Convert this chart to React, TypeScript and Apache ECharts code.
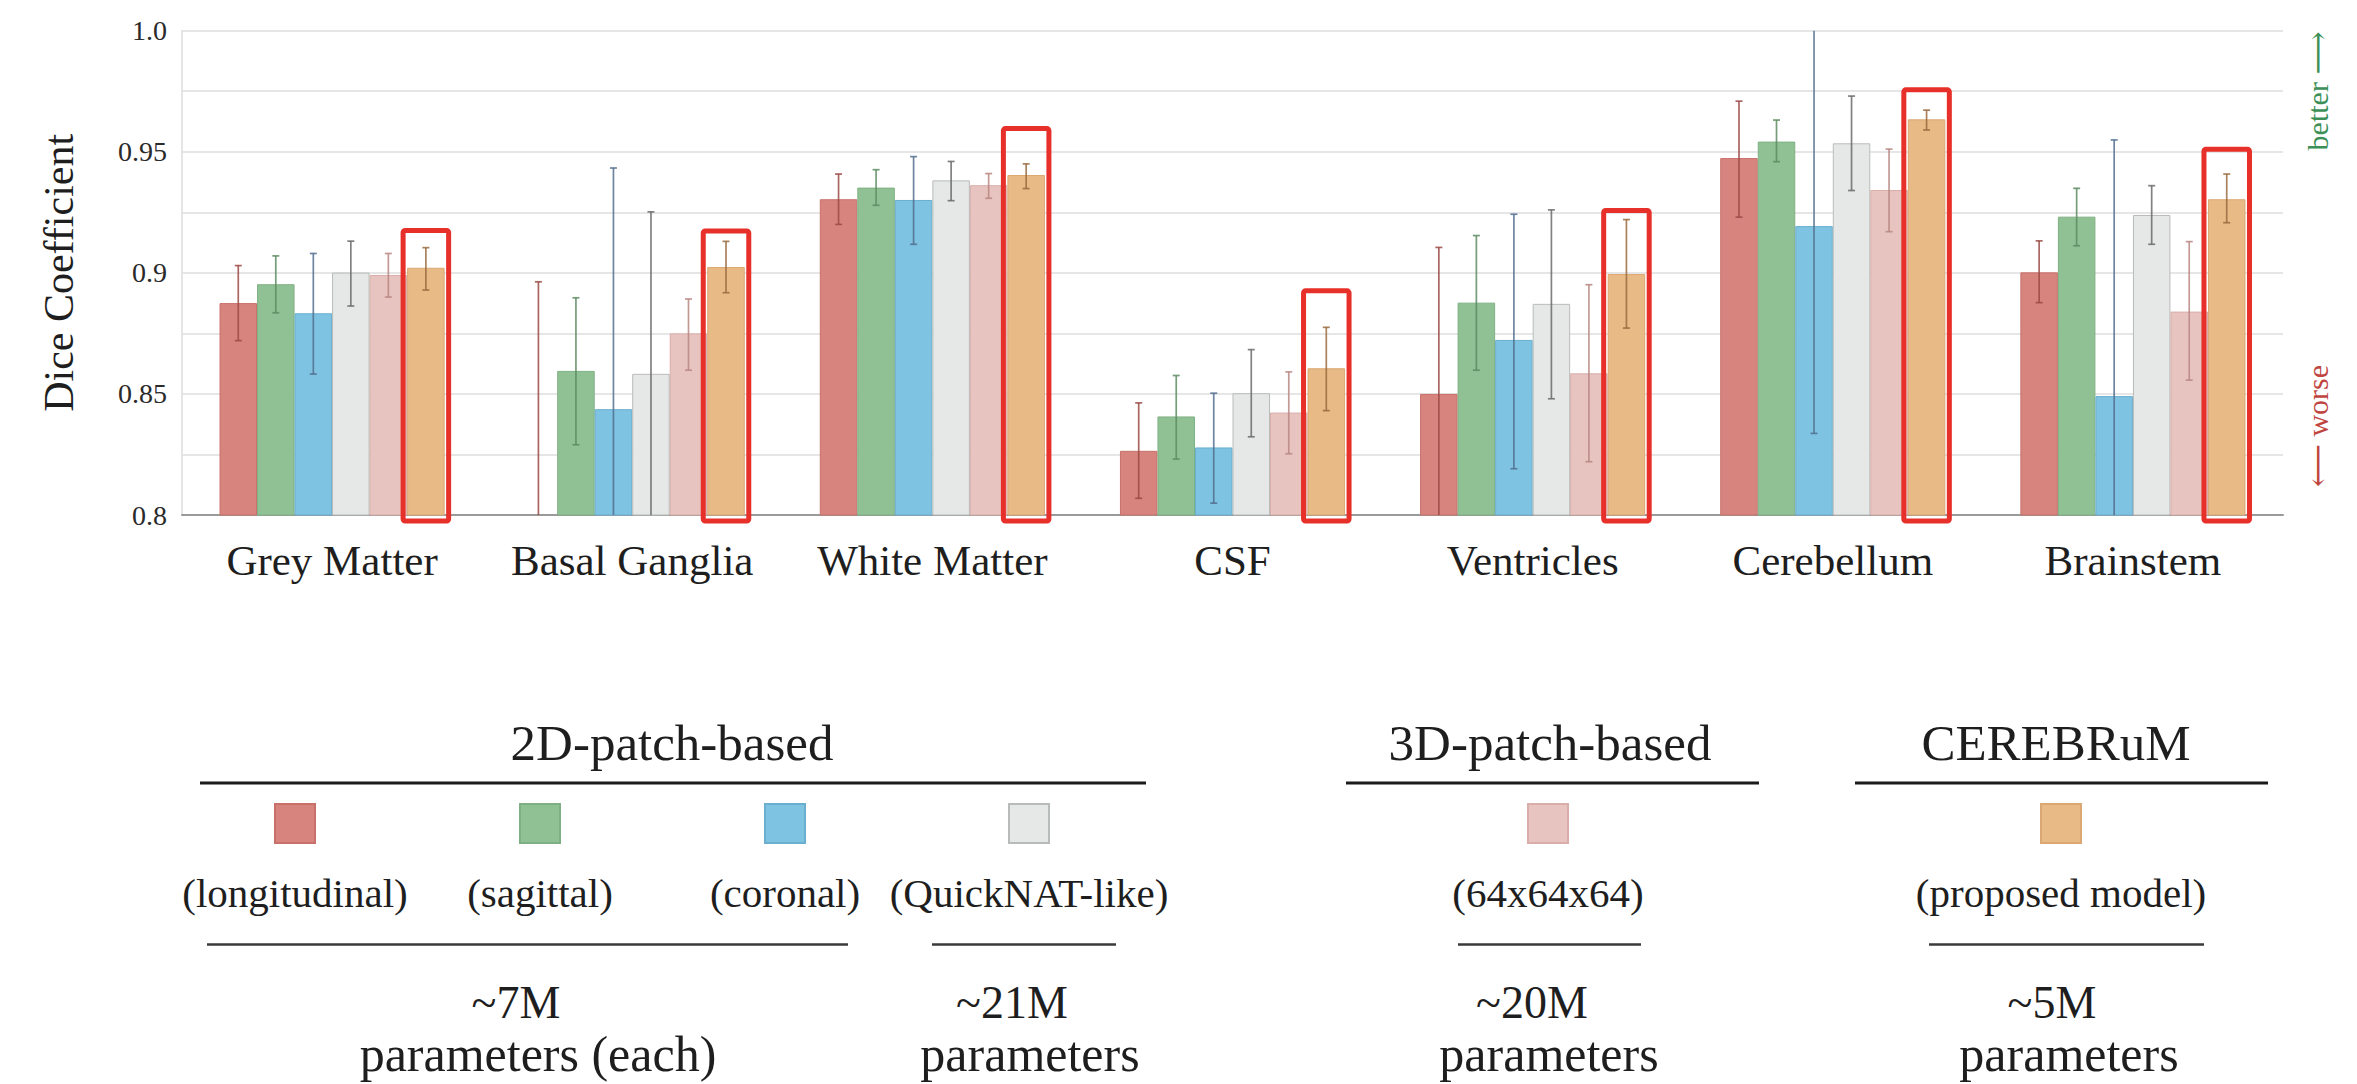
import React, { useEffect, useRef } from "react";
import * as echarts from "echarts";

// ---------- DATA ----------
const categories = ["Grey Matter", "Basal Ganglia", "White Matter", "CSF", "Ventricles", "Cerebellum", "Brainstem"];

const seriesNames = [
  "2D-patch-based (longitudinal)",
  "2D-patch-based (sagittal)",
  "2D-patch-based (coronal)",
  "2D-patch-based (QuickNAT-like)",
  "3D-patch-based (64x64x64)",
  "CEREBRuM (proposed model)",
];

const longitudinal = [0.8875, 0.79, 0.9304, 0.8265, 0.85, 0.9474, 0.9002];
const longitudinalLow = [0.872, 0.684, 0.92, 0.8069, 0.789, 0.923, 0.8877];
const longitudinalHigh = [0.903, 0.8963, 0.9408, 0.8463, 0.9105, 0.9709, 0.9132];

const sagittal = [0.8953, 0.8595, 0.9352, 0.8407, 0.8877, 0.9542, 0.9232];
const sagittalLow = [0.8835, 0.829, 0.9279, 0.8231, 0.8598, 0.9459, 0.9112];
const sagittalHigh = [0.907, 0.8897, 0.9426, 0.8576, 0.9154, 0.9631, 0.9349];

const coronal = [0.8833, 0.8437, 0.9301, 0.8279, 0.8723, 0.9193, 0.8491];
const coronalLow = [0.8582, 0.744, 0.9118, 0.8049, 0.8191, 0.8337, 0.743];
const coronalHigh = [0.908, 0.9433, 0.948, 0.8503, 0.9242, 1.005, 0.9549];

const quicknat = [0.9001, 0.8583, 0.9382, 0.8503, 0.8872, 0.9535, 0.9239];
const quicknatLow = [0.8863, 0.7914, 0.9298, 0.8323, 0.848, 0.934, 0.9118];
const quicknatHigh = [0.9131, 0.9252, 0.946, 0.8683, 0.926, 0.973, 0.936];

const patch3d = [0.8991, 0.875, 0.9362, 0.8423, 0.8585, 0.9342, 0.884];
const patch3dLow = [0.89, 0.8598, 0.9308, 0.8253, 0.822, 0.917, 0.8557];
const patch3dHigh = [0.908, 0.8892, 0.941, 0.8591, 0.8951, 0.9511, 0.9129];

const cerebrum = [0.9021, 0.9024, 0.9404, 0.8606, 0.8995, 0.9634, 0.9304];
const cerebrumLow = [0.8929, 0.8918, 0.9348, 0.8431, 0.8772, 0.959, 0.9207];
const cerebrumHigh = [0.9104, 0.913, 0.945, 0.8775, 0.922, 0.9672, 0.9408];

// top of the red highlight box around the proposed model bars
const highlightTop = [0.9185, 0.9183, 0.9606, 0.8936, 0.9268, 0.9766, 0.9521];

const yMin = 0.8;
const yMax = 1.0;
const yStep = 0.025;

// legend texts
const groupTitles = ["2D-patch-based", "3D-patch-based", "CEREBRuM"];
const legendLabels = ["(longitudinal)", "(sagittal)", "(coronal)", "(QuickNAT-like)", "(64x64x64)", "(proposed model)"];
const paramCounts = ["~7M", "~21M", "~20M", "~5M"];
const paramLabels = ["parameters (each)", "parameters", "parameters", "parameters"];

// ---------- STYLE ----------
const FONT = "Liberation Serif, DejaVu Serif, serif";
const TEXT = "#1e1e1e";
const fills = ["#d8847e", "#90c194", "#7fc3e2", "#e5e8e6", "#e8c4c0", "#e8ba86"];
const borders = ["#c8706a", "#7fb084", "#6aaed0", "#b8bcb9", "#d9aeaa", "#dba873"];
const errColors = ["#9b4a45", "#5d8c62", "#54708f", "#6b6b6b", "#b88782", "#9a6b40"];

const values = [longitudinal, sagittal, coronal, quicknat, patch3d, cerebrum];
const lows = [longitudinalLow, sagittalLow, coronalLow, quicknatLow, patch3dLow, cerebrumLow];
const highs = [longitudinalHigh, sagittalHigh, coronalHigh, quicknatHigh, patch3dHigh, cerebrumHigh];

const GROUP_FRAC = 0.75; // barCategoryGap 25%
const NB = 6;

function barGeom(api: any, idx: number, k: number) {
  const bw = api.size([1, 0])[0];
  const center = api.coord([idx, yMin])[0];
  const w = (bw * GROUP_FRAC) / NB;
  const left = center - (bw * GROUP_FRAC) / 2 + k * w;
  return { left, w };
}

function clamp(v: number) {
  return Math.max(yMin, Math.min(yMax, v));
}

export default function App() {
  const ref = useRef<HTMLDivElement>(null);

  useEffect(() => {
    document.body.style.margin = "0";
    document.body.style.background = "#ffffff";
    if (!ref.current) return;
    const chart = echarts.init(ref.current, null, { renderer: "svg" });

    const barSeries = seriesNames.map((name, k) => ({
      name,
      type: "bar",
      data: values[k],
      barGap: "0%",
      barCategoryGap: "25%",
      clip: true,
      itemStyle: { color: fills[k], borderColor: borders[k], borderWidth: 1 },
      z: 2,
    }));

    const errorSeries = seriesNames.map((name, k) => ({
      name: name + " error",
      type: "custom",
      z: 3,
      data: categories.map((_, i) => [i, lows[k][i], highs[k][i]]),
      renderItem: (params: any, api: any) => {
        const idx = api.value(0);
        const lo = api.value(1);
        const hi = api.value(2);
        const { left, w } = barGeom(api, idx, k);
        const x = left + w / 2;
        const yT = api.coord([idx, clamp(hi)])[1];
        const yB = api.coord([idx, clamp(lo)])[1];
        const cap = 3.5;
        const st = { stroke: errColors[k], lineWidth: 1.7, opacity: 0.85 };
        const children: any[] = [
          { type: "line", shape: { x1: x, y1: yT, x2: x, y2: yB }, style: st },
        ];
        if (hi <= yMax) children.push({ type: "line", shape: { x1: x - cap, y1: yT, x2: x + cap, y2: yT }, style: st });
        if (lo >= yMin) children.push({ type: "line", shape: { x1: x - cap, y1: yB, x2: x + cap, y2: yB }, style: st });
        return { type: "group", children };
      },
    }));

    const boxSeries = {
      name: "highlight",
      type: "custom",
      z: 4,
      data: categories.map((_, i) => [i, highlightTop[i]]),
      renderItem: (params: any, api: any) => {
        const idx = api.value(0);
        const top = api.value(1);
        const { left, w } = barGeom(api, idx, 5);
        const yTop = api.coord([idx, top])[1] + 2.5;
        const yBot = api.coord([idx, yMin])[1] + 6;
        return {
          type: "rect",
          shape: { x: left - 4, y: yTop, width: w + 8, height: yBot - yTop, r: 2 },
          style: { fill: "none", stroke: "#e8302a", lineWidth: 5 },
        };
      },
    };

    // legend / annotation graphics
    const itemX = [295, 540, 785, 1029, 1548, 2061];
    const titleX = [672, 1550, 2056];
    const titleLines = [[200, 1146], [1346, 1759], [1855, 2268]];
    const paramLines = [[207, 848], [932, 1116], [1458, 1641], [1929, 2204]];
    const countX = [516, 1012, 1532, 2052];
    const paramX = [538, 1030, 1549, 2069];

    const txt = (text: string, x: number, y: number, size: number, fill = TEXT, rotation = 0) => ({
      type: "text",
      x,
      y,
      rotation,
      style: {
        text,
        fill,
        fontSize: size,
        fontFamily: FONT,
        align: "center",
        verticalAlign: "middle",
      },
    });
    const ln = (x1: number, x2: number, y: number, w: number, c: string) => ({
      type: "line",
      shape: { x1, y1: y, x2, y2: y },
      style: { stroke: c, lineWidth: w },
    });

    const graphic: any[] = [];
    groupTitles.forEach((t, i) => {
      graphic.push(txt(t, titleX[i], 743, 51));
      graphic.push(ln(titleLines[i][0], titleLines[i][1], 783, 3, "#1a1a1a"));
    });
    legendLabels.forEach((t, k) => {
      graphic.push({
        type: "rect",
        shape: { x: itemX[k] - 20, y: 804, width: 40, height: 39 },
        style: { fill: fills[k], stroke: borders[k], lineWidth: 2 },
      });
      graphic.push(txt(t, itemX[k], 893, 41));
    });
    paramLines.forEach((l, i) => {
      graphic.push(ln(l[0], l[1], 944.5, 2.5, "#3a3a3a"));
      graphic.push(txt(paramCounts[i], countX[i], 1002, 46));
      graphic.push(txt(paramLabels[i], paramX[i], 1054, 50));
    });
    graphic.push(txt("better \u27F6", 2317, 91, 30, "#3d8f58", Math.PI / 2));
    graphic.push(txt("\u27F5 worse", 2317, 426, 30, "#c0453f", Math.PI / 2));

    chart.setOption({
      animation: false,
      backgroundColor: "#ffffff",
      grid: { left: 182, right: 74, top: 30.7, bottom: 569 },
      xAxis: {
        type: "category",
        data: categories,
        axisTick: { show: false },
        axisLine: { lineStyle: { color: "#9a9a9a", width: 2 } },
        axisLabel: { interval: 0, fontFamily: FONT, fontSize: 43, color: TEXT, margin: 24 },
      },
      yAxis: {
        type: "value",
        min: yMin,
        max: yMax,
        interval: yStep,
        name: "Dice Coefficient",
        nameLocation: "middle",
        nameGap: 102,
        nameTextStyle: { fontFamily: FONT, fontSize: 42, color: TEXT },
        axisLine: { show: true, lineStyle: { color: "#dcdcdc", width: 1.5 } },
        axisTick: { show: false },
        splitLine: { lineStyle: { color: "#e6e6e6", width: 1.8 } },
        axisLabel: {
          fontFamily: FONT,
          fontSize: 28,
          color: "#2a2a2a",
          margin: 15,
          formatter: (v: number) => {
            const m = Math.round(v * 1000);
            if (m % 50 !== 0) return "";
            if (m === 1000) return "1.0";
            return String(m / 1000);
          },
        },
      },
      series: [...barSeries, ...errorSeries, boxSeries],
      graphic,
    });

    return () => chart.dispose();
  }, []);

  return <div ref={ref} style={{ width: 2357, height: 1084, display: "block" }} />;
}
